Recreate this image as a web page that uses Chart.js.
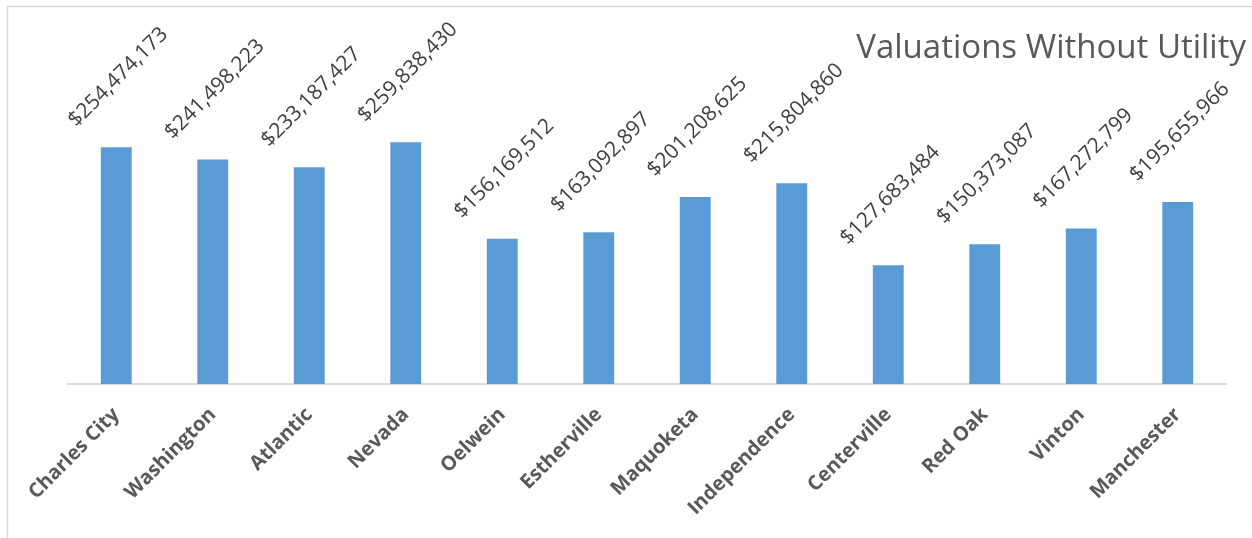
<!DOCTYPE html>
<html>
<head>
<meta charset="utf-8">
<script src="https://cdn.jsdelivr.net/npm/chart.js@4.4.1/dist/chart.umd.min.js"></script>
<style>
	html, body { margin: 0; padding: 0; background: #fff; }
	#wrap { position: relative; width: 1252px; height: 538px; }
</style>
</head>
<body>
<div id="wrap"><canvas id="myChart" width="1252" height="538"></canvas></div>
<script>
// data
let cities = ["Charles City", "Washington", "Atlantic", "Nevada", "Oelwein", "Estherville",
	"Maquoketa", "Independence", "Centerville", "Red Oak", "Vinton", "Manchester"];
let valuations = [254474173, 241498223, 233187427, 259838430, 156169512, 163092897,
	201208625, 215804860, 127683484, 150373087, 167272799, 195655966];
let chartTitle = "Valuations Without Utility";

function fmtMoney(v){
	return "$" + v.toLocaleString("en-US");
}

// frame lines + title
let framePlugin = {
	id: "frame",
	beforeDraw: function(chart){
		let c = chart.ctx;
		c.save();
		c.strokeStyle = "#d9d9d9";
		c.lineWidth = 1.5;
		c.beginPath();
		c.moveTo(7.5, 538);
		c.lineTo(7.5, 6.5);
		c.lineTo(1252, 6.5);
		c.stroke();
		c.restore();
	},
	afterDraw: function(chart){
		let c = chart.ctx;
		c.save();
		c.fillStyle = "#595959";
		c.font = "33px 'Open Sans'";
		c.textAlign = "right";
		c.textBaseline = "alphabetic";
		c.fillText(chartTitle, 1246, 58);
		c.restore();
	}
};

// rotated value labels above bars
let valueLabels = {
	id: "valueLabels",
	afterDatasetsDraw: function(chart){
		let c = chart.ctx;
		let meta = chart.getDatasetMeta(0);
		c.save();
		c.fillStyle = "#404040";
		c.font = "21px 'Open Sans'";
		c.textAlign = "center";
		c.textBaseline = "middle";
		meta.data.forEach(function(bar, i){
			c.save();
			c.translate(bar.x + 2, bar.y - 70);
			c.rotate(-Math.PI / 4);
			c.fillText(fmtMoney(valuations[i]), 0, 0);
			c.restore();
		});
		c.restore();
	}
};

let ctx = document.getElementById("myChart");
let chart = new Chart(ctx, {
	type: "bar",
	data: {
		labels: cities,
		datasets: [{
			label: chartTitle,
			data: valuations,
			backgroundColor: "#5b9bd5",
			categoryPercentage: 1,
			barPercentage: 0.32
		}]
	},
	options: {
		animation: false,
		responsive: false,
		devicePixelRatio: 1,
		layout: { padding: { top: 105, left: 68, right: 26, bottom: 0 } },
		plugins: {
			legend: { display: false },
			tooltip: { enabled: false },
			title: { display: false }
		},
		scales: {
			x: {
				grid: { display: false, drawTicks: false },
				border: { display: true, color: "#d9d9d9", width: 2 },
				ticks: {
					color: "#595959",
					font: { family: "'Open Sans'", size: 20, weight: "bold" },
					minRotation: 45,
					maxRotation: 45,
					padding: 19
				},
				afterFit: function(scale){ scale.height = 154; }
			},
			y: {
				display: false,
				min: 0,
				max: 300000000
			}
		}
	},
	plugins: [framePlugin, valueLabels]
});
</script>
</body>
</html>
